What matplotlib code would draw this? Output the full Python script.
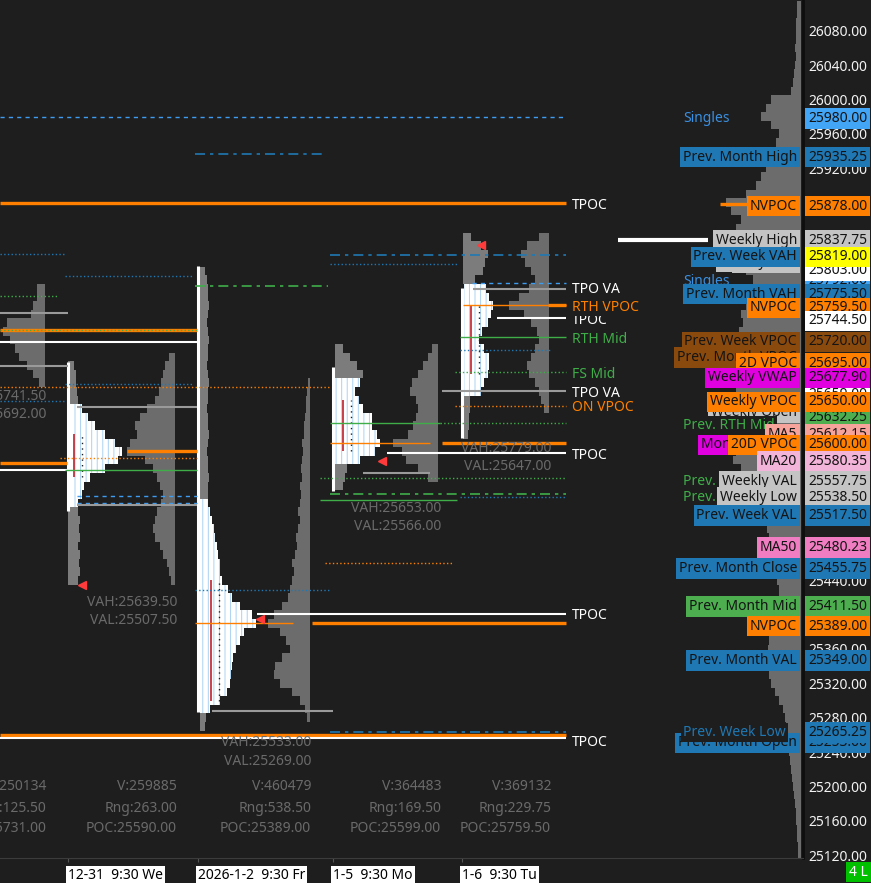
"""
Market profile chart: session TPO / volume profiles, key levels and a
composite volume profile along the price axis.
"""
import matplotlib.pyplot as plt
import numpy as np

plt.rcParams['font.family'] = ['Noto Sans', 'DejaVu Sans']

# ---------------------------------------------------------------- data
PRICE_LO, PRICE_HI = 25116.6, 26115.75
BIN = 10

# composite volume profile, widths from 26110 down to 25120 (step 10)
comp_top = 26110
comp_widths = [
    4, 4, 5, 5, 5, 6, 5, 6, 7, 8,
    10, 30, 35, 40, 30, 22, 25, 30, 28, 35,
    40, 45, 55, 75, 70, 60, 65, 55, 50, 45,
    50, 55, 48, 45, 50, 55, 60, 58, 62, 60,
    65, 68, 66, 70, 72, 65, 62, 60, 58, 55,
    60, 62, 65, 68, 60, 50, 48, 45, 40, 38,
    36, 34, 32, 30, 28, 27, 25, 24, 22, 22,
    20, 24, 28, 30, 32, 33, 35, 34, 32, 30,
    26, 22, 18, 16, 15, 14, 13, 12, 11, 10,
    9, 8, 7, 6, 5, 5, 4, 4, 3, 3,
]

# session volume profiles (top price, widths going down)
s0_vol_top, s0_vol = 25780, [8, 8, 12, 14, 38, 42, 35, 30, 26, 18, 12, 6]
s1_vol_top, s1_vol = 25700, [6, 10, 12, 14, 16, 20, 28, 35, 40, 38, 45, 48, 30, 22,
                             18, 15, 12, 14, 18, 20, 22, 20, 15, 12, 8, 6, 4]
s2_vol_top, s2_vol = 25670, [2, 3, 4, 4, 5, 6, 6, 8, 7, 8, 9, 8, 10, 9, 10, 12, 10, 12,
                             14, 13, 15, 18, 16, 18, 20, 22, 28, 36, 42, 30, 24, 20,
                             28, 35, 36, 30, 18, 10, 5, 3]
s3_vol_top, s3_vol = 25710, [6, 10, 15, 20, 26, 28, 22, 20, 22, 25, 30, 45, 36, 32, 20, 10]
s4_vol_top, s4_vol = 25840, [10, 22, 28, 24, 18, 14, 20, 30, 40, 25, 18, 12, 10, 14,
                             18, 22, 20, 14, 10, 8, 5]

# session TPO profiles (RTH in white, overnight in grey)
s1_tpo_top, s1_tpo = 25640, [12, 18, 25, 35, 45, 52, 48, 35, 20, 14, 12, 8]
s1_eth_hi_top, s1_eth_hi = 25690, [6, 8, 8, 9, 10]
s1_eth_lo_top, s1_eth_lo = 25520, [10, 12, 11, 12, 10, 12, 11, 12, 10]
s2_tpo_top, s2_tpo = 25530, [8, 10, 12, 14, 15, 17, 18, 20, 20, 22, 28, 32, 40, 52,
                             56, 44, 40, 36, 33, 32, 31, 30, 27, 20, 10]
s2_eth_hi_top, s2_eth_hi = 25800, [5, 7, 8, 8, 9, 8, 7, 8, 9, 8, 8, 7, 8, 9, 8, 8, 7,
                                   8, 8, 9, 8, 7, 8, 8, 9, 8, 8]
s2_eth_lo_top, s2_eth_lo = 25280, [6, 5]
s3_tpo_top, s3_tpo = 25670, [25, 20, 24, 28, 37, 37, 42, 45, 40, 25]
s3_eth_hi_top, s3_eth_hi = 25710, [8, 15, 22, 28]
s3_eth_lo_top, s3_eth_lo = 25570, [12, 10, 8]
s4_tpo_top, s4_tpo = 25780, [22, 25, 29, 27, 24, 18, 15, 20, 25, 25, 24, 20, 17]
s4_eth_hi_top, s4_eth_hi = 25840, [8, 18, 25, 22, 20, 12]
s4_eth_lo_top, s4_eth_lo = 25650, [7, 7, 6, 6, 5]

# RTH range bars (x, high, low)
range_x = [68, 198, 333, 462]
range_hi = [25694, 25806, 25688, 25780]
range_lo = [25521, 25287, 25544, 25606]

# initial-balance letter columns drawn in red inside the TPO
ib_x = [74, 211, 343, 471]
ib_hi = [25610, 25440, 25650, 25760]
ib_lo = [25560, 25300, 25590, 25680]

# POC markers
poc_mark_x = [82, 260, 382, 481]
poc_mark_price = [25434, 25395, 25579, 25831]

# session statistics
session_volume = [250134, 259885, 460479, 364483, 369132]
session_range = [125.50, 263.00, 538.50, 169.50, 229.75]
session_poc = [25731.00, 25590.00, 25389.00, 25599.00, 25759.50]
session_vah = [25741.50, 25639.50, 25533.00, 25653.00, 25779.00]
session_val = [25692.00, 25507.50, 25269.00, 25566.00, 25647.00]
session_start = ['12-31  9:30 We', '2026-1-2  9:30 Fr', '1-5  9:30 Mo', '1-6  9:30 Tu']

# horizontal levels
level_price = [25980, 25936, 25879, 25878, 25836, 25820, 25794, 25819, 25808, 25783,
               25786, 25779, 25771, 25760, 25760, 25745, 25751, 25731, 25731, 25718,
               25723, 25708, 25690, 25683, 25668, 25649, 25665, 25660, 25643, 25642,
               25623, 25623, 25600, 25600, 25588, 25590, 25582, 25577, 25569, 25568,
               25565, 25559, 25541, 25538, 25537, 25533, 25530, 25528, 25460, 25429,
               25401, 25390, 25390, 25288, 25263, 25260, 25256]
level_x0 = [0, 195, 0, 720, 618, 0, 65, 330, 330, 195,
            472, 473, 0, 463, 548, 497, 0, 0, 0, 0,
            460, 460, 0, 455, 65, 0, 0, 442, 455, 77,
            330, 440, 330, 442, 387, 127, 60, 0, 0, 65,
            363, 320, 330, 77, 460, 320, 77, 77, 325, 195,
            257, 195, 312, 212, 330, 0, 0]
level_x1 = [566, 325, 566, 752, 708, 65, 193, 566, 458, 328,
            566, 566, 58, 566, 566, 566, 68, 197, 197, 197,
            566, 550, 68, 566, 193, 65, 330, 566, 566, 197,
            440, 566, 430, 566, 566, 197, 197, 67, 67, 197,
            430, 566, 566, 197, 566, 457, 197, 197, 453, 330,
            566, 293, 566, 333, 566, 566, 566]
level_kind = ['singles', 'weekly', 'vpoc', 'vpoc', 'stub', 'blue_dot', 'blue_dot', 'weekly',
              'blue_dot', 'g_dashdot', 'singles', 'va', 'g_dot', 'vpoc_thin', 'vpoc', 'tpoc',
              'va', 'vpoc', 'g_dot', 'tpoc', 'mid', 'blue_dot', 'va', 'g_dot', 'blue_dot',
              'blue_dot', 'o_dot', 'va', 'o_dot', 'va', 'mid', 'g_dot', 'vpoc_thin', 'vpoc',
              'tpoc', 'vpoc', 'o_dot', 'vpoc', 'tpoc', 'mid', 'va', 'g_dot', 'g_dashdot',
              'singles', 'blue_dot', 'mid', 'singles', 'va', 'o_dot', 'blue_dot', 'tpoc',
              'vpoc_thin', 'vpoc', 'va', 'weekly', 'vpoc', 'tpoc']

# level names at the end of the lines
tag_text = ['TPOC', 'TPO VA', 'TPOC', 'RTH VPOC', 'RTH Mid', 'FS Mid', 'TPO VA',
            'ON VPOC', 'TPOC', 'TPOC', 'TPOC']
tag_price = [25879, 25781, 25745, 25760, 25723, 25682.5, 25660, 25643, 25588, 25401, 25253]
tag_kind = ['white', 'white', 'white', 'orange', 'green', 'green', 'white', 'orange',
            'white', 'white', 'white']

# reference labels next to the price axis
side_text = ['Singles', 'Prev. Month High', 'NVPOC', 'Weekly VAH', 'Weekly High',
             'Prev. Week VAH', 'Singles', 'Prev. Month VAH', 'NVPOC', 'Prev. Week VPOC',
             'Prev. Month VPOC', '2D VPOC', 'Weekly VWAP', 'Weekly Open', 'Weekly VPOC',
             'Prev. RTH Mid', 'MA5', 'Monthly VWAP', '20D VPOC', 'MA20', 'Prev. RTH VAL',
             'Weekly VAL', 'Prev. RTH Low', 'Weekly Low', 'Prev. Week VAL', 'MA50',
             'Prev. Month Close', 'Prev. Month Mid', 'NVPOC', 'Prev. Month VAL',
             'Prev. Month Open', 'Prev. Week Low']
side_price = [25980, 25935.25, 25878, 25812, 25837.75, 25819, 25790, 25775.5, 25759.5,
              25720, 25702, 25695, 25677.9, 25638, 25650, 25623, 25612.15, 25600, 25600,
              25580.35, 25557.75, 25557.75, 25538.5, 25538.5, 25517.5, 25480.23, 25455.75,
              25411.5, 25389, 25349, 25253, 25265.25]
side_kind = ['t_blue', 'steel', 'orange', 'lgray', 'lgray', 'steel', 't_blue', 'steel',
             'orange', 'brown', 'brown', 'orange', 'magenta', 'lgray', 'orange', 't_green',
             'salmon', 'magenta', 'orange', 'lpink', 't_green', 'lgray', 't_green', 'lgray',
             'steel', 'pink', 'steel', 'green', 'orange', 'steel', 'steel', 't_steel']

# coloured price boxes on the axis
axis_box_price = [25792, 25803, 25659, 25642.5, 25632.25, 25980, 25935.25, 25878, 25837.75,
                  25819, 25775.5, 25759.5, 25744.5, 25720, 25695, 25677.9, 25650, 25612.15,
                  25600, 25580.35, 25557.75, 25538.5, 25517.5, 25480.23, 25455.75,
                  25411.5, 25389, 25349, 25253, 25265.25]
axis_box_kind = ['lblue', 'white', 'white', 'lgray', 'green', 'lblue', 'steel', 'orange',
                 'lgray', 'yellow', 'steel', 'orange', 'white', 'brown', 'orange', 'magenta',
                 'orange', 'salmon', 'orange', 'lpink', 'lgray', 'lgray', 'steel', 'pink',
                 'steel', 'green', 'orange', 'steel', 'steel', 'steel']

# ---------------------------------------------------------------- styles
BG = '#1e1e1e'
ORANGE = '#ff8000'
GREEN = '#3fae49'
STEEL = '#1f78b4'
LBLUE = '#3d9df0'
GRAYL = '#9a9a9a'
VOLGRAY = '#6c6c6c'
ETHGRAY = '#7c7c7c'
STATGRAY = '#6a6a6a'
DASHDOT = (0, (6, 3, 2, 3))

LINE_STYLE = {
    'vpoc': dict(color=ORANGE, lw=2.4, ls='-'),
    'vpoc_thin': dict(color=ORANGE, lw=1.0, ls='-'),
    'o_dot': dict(color=ORANGE, lw=1.0, ls=':'),
    'tpoc': dict(color='white', lw=1.5, ls='-'),
    'va': dict(color=GRAYL, lw=1.5, ls='-'),
    'mid': dict(color=GREEN, lw=1.0, ls='-'),
    'g_dot': dict(color=GREEN, lw=1.0, ls=':'),
    'g_dashdot': dict(color=GREEN, lw=1.2, ls=DASHDOT),
    'singles': dict(color=LBLUE, lw=1.0, ls=(0, (3, 3))),
    'blue_dot': dict(color=STEEL, lw=1.0, ls=':'),
    'weekly': dict(color=STEEL, lw=1.2, ls=DASHDOT),
    'stub': dict(color='white', lw=3.0, ls='-'),
}
TAG_COLOR = {'white': 'white', 'orange': ORANGE, 'green': GREEN}
BOX_COLOR = {
    'steel': STEEL, 'orange': ORANGE, 'lgray': '#c4c4c4', 'brown': '#8a4a0e',
    'magenta': '#e000e0', 'salmon': '#f5a39b', 'lpink': '#f2b4d8', 'pink': '#f07dc2',
    'green': '#4cae4f', 'lblue': '#42a5f5', 'yellow': '#ffff00', 'white': '#ffffff',
}
TEXT_ONLY = {'t_blue': '#3a8fe0', 't_green': GREEN, 't_steel': STEEL}


def row_price(y_px):
    """Price at a pixel row of the plot area (used for text placement)."""
    return PRICE_HI - y_px * (PRICE_HI - PRICE_LO) / 858.0


def profile(axis, top, widths, x, color, from_right=False, zorder=2, **kw):
    """Draw a horizontal histogram profile starting (or ending) at x."""
    widths = np.asarray(widths, dtype=float)
    prices = top - BIN * np.arange(len(widths))
    left = x - widths if from_right else x
    axis.barh(prices, widths, height=BIN, left=left, color=color,
              linewidth=0, zorder=zorder, **kw)


# ---------------------------------------------------------------- figure
fig = plt.figure(figsize=(8.71, 8.83), dpi=100, facecolor=BG)
ax = fig.add_axes([0, 25 / 883, 803 / 871, 858 / 883])
ax.set_facecolor(BG)
ax.set_xlim(0, 803)
ax.set_ylim(PRICE_LO, PRICE_HI)

# composite profile along the price axis
profile(ax, comp_top, comp_widths, 801, VOLGRAY, from_right=True, zorder=1)

# session volume profiles (anchored on the right of each session)
for top, w, x in [(s0_vol_top, s0_vol, 45), (s1_vol_top, s1_vol, 175),
                  (s2_vol_top, s2_vol, 310), (s3_vol_top, s3_vol, 438),
                  (s4_vol_top, s4_vol, 549)]:
    profile(ax, top, w, x, VOLGRAY, from_right=True)

# overnight TPO parts
for top, w, x in [(s1_eth_hi_top, s1_eth_hi, 68), (s1_eth_lo_top, s1_eth_lo, 68),
                  (s2_eth_hi_top, s2_eth_hi, 200), (s2_eth_lo_top, s2_eth_lo, 200),
                  (s3_eth_hi_top, s3_eth_hi, 335), (s3_eth_lo_top, s3_eth_lo, 335),
                  (s4_eth_hi_top, s4_eth_hi, 463), (s4_eth_lo_top, s4_eth_lo, 463)]:
    profile(ax, top, w, x, ETHGRAY)

# RTH TPO parts, white with thin coloured letter columns
plt.rcParams['hatch.linewidth'] = 0.7
for top, w, x in [(s1_tpo_top, s1_tpo, 70), (s2_tpo_top, s2_tpo, 200),
                  (s3_tpo_top, s3_tpo, 335), (s4_tpo_top, s4_tpo, 464)]:
    profile(ax, top, w, x, 'white', zorder=3, hatch='|||', edgecolor='#a9d2f2')
ax.vlines(ib_x, ib_lo, ib_hi, color='#c0202a', lw=1.2, zorder=4)
ax.vlines([x + 8 for x in ib_x], ib_lo, ib_hi, color='#202020', lw=1.0,
          ls=(0, (1, 3)), zorder=4)

# RTH range bars
ax.vlines(range_x, range_lo, range_hi, color='white', lw=2.2, zorder=4)

# key levels
for p, x0, x1, kind in zip(level_price, level_x0, level_x1, level_kind):
    ax.hlines(p, x0, x1, zorder=5, **LINE_STYLE[kind])

ax.plot(poc_mark_x, poc_mark_price, ls='none', marker='<', ms=6,
        color='#ff3b3b', zorder=6)

# level names
for txt, p, kind in zip(tag_text, tag_price, tag_kind):
    ax.text(572, p, txt, color=TAG_COLOR[kind], fontsize=10, ha='left',
            va='center_baseline', zorder=7,
            bbox=dict(boxstyle='square,pad=0.05', fc=BG, ec='none'))

# session value areas and statistics
stat_right = [46, 177, 311, 441, 551]
va_row = [396, 602, 743, 508, 448]
for i, xr in enumerate(stat_right):
    ax.text(xr, row_price(va_row[i]), f'VAH:{session_vah[i]:.2f}', color=STATGRAY,
            fontsize=10, ha='right', va='center', zorder=7)
    ax.text(xr, row_price(va_row[i] + 19), f'VAL:{session_val[i]:.2f}', color=STATGRAY,
            fontsize=10, ha='right', va='center', zorder=7)
    ax.text(xr, row_price(787), f'V:{session_volume[i]}', color=STATGRAY,
            fontsize=10, ha='right', va='center', zorder=7)
    ax.text(xr, row_price(808), f'Rng:{session_range[i]:.2f}', color=STATGRAY,
            fontsize=10, ha='right', va='center', zorder=7)
    ax.text(xr, row_price(828), f'POC:{session_poc[i]:.2f}', color=STATGRAY,
            fontsize=10, ha='right', va='center', zorder=7)

# labels left of the price axis
for txt, p, kind in zip(side_text, side_price, side_kind):
    if kind in TEXT_ONLY:
        ax.text(683, p, txt, color=TEXT_ONLY[kind], fontsize=10, ha='left',
                va='center_baseline', zorder=8, clip_on=False,
                bbox=dict(boxstyle='square,pad=0.15', fc=BG, ec='none'))
    else:
        ax.text(797, p, txt, color='#141414', fontsize=10, ha='right',
                va='center_baseline', zorder=8, clip_on=False,
                bbox=dict(boxstyle='square,pad=0.2', fc=BOX_COLOR[kind], ec='none'))

# price axis
ax.yaxis.tick_right()
ticks = np.arange(25120, 26081, 40)
ax.set_yticks(ticks)
ax.set_yticklabels([f'{t:.2f}' for t in ticks])
ax.tick_params(axis='y', length=0, pad=4, labelsize=10, labelcolor='#f2f2f2')
for p, kind in zip(axis_box_price, axis_box_kind):
    ax.text(808, p, f'{p:.2f}', color='#141414', fontsize=10, ha='left',
            va='center_baseline', zorder=9, clip_on=False,
            bbox=dict(boxstyle='square,pad=0.2', fc=BOX_COLOR[kind], ec='none'))

# time axis
ax.set_xticks(range_x)
ax.set_xticklabels(session_start)
ax.tick_params(axis='x', length=3, color='#555555', pad=4, labelsize=10,
               labelcolor='black')
for lab in ax.get_xticklabels():
    lab.set_horizontalalignment('left')
    lab.set_bbox(dict(boxstyle='square,pad=0.15', fc='white', ec='none'))

for side in ['left', 'top']:
    ax.spines[side].set_visible(False)
ax.spines['right'].set_color('#0e0e0e')
ax.spines['right'].set_linewidth(2)
ax.spines['bottom'].set_color('#3c3c3c')

fig.text(849 / 871, 11 / 883, '4 L', color='white', fontsize=10, ha='left',
         va='center', bbox=dict(boxstyle='square,pad=0.2', fc='#00c000', ec='none'))

fig.savefig('out.png', dpi=100, facecolor=BG)
